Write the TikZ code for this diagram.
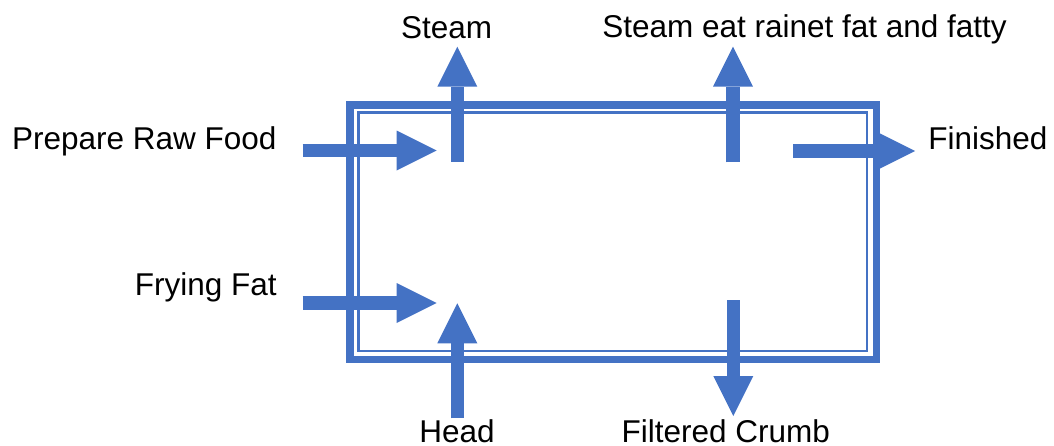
\documentclass[tikz,border=0pt]{standalone}
\usepackage{fontspec}
\setmainfont{Liberation Sans}
\usetikzlibrary{arrows.meta}
\definecolor{flowblue}{HTML}{4472C4}
\begin{document}
\begin{tikzpicture}[x=1pt,y=-1pt,
  label/.style={anchor=base,inner sep=0pt,text=black,font=\fontsize{31.5}{36}\selectfont},
  flow/.style={draw=flowblue,line width=13.5pt,
    -{Triangle[length=40pt,width=40pt,line width=0pt]}},
  vesselwall/.style={draw=flowblue,line width=7.5pt,miter limit=10,inner sep=0pt},
  vesselliner/.style={draw=flowblue,line width=2.5pt,inner sep=0pt}]
\useasboundingbox (0,0) rectangle (1054,445);

% fryer vessel: thick outer wall with a thin inner liner
\node[vesselwall,minimum width=526.5pt,minimum height=254.5pt] (vessel) at (613.25,232.25) {};
\node[vesselliner,minimum width=508.5pt,minimum height=238.5pt] (liner) at (612.75,231.75) {};

% labels
\node[label] (steam) at (446.7,38) {Steam};
\node[label] (steamfat) at (804.5,37.5) {Steam eat rainet fat and fatty};
\node[label] (raw) at (144.2,149.3) {Prepare Raw Food};
\node[label] (fat) at (205.8,295.7) {Frying Fat};
\node[label] (done) at (987.8,149) {Finished};
\node[label] (heat) at (457,442) {Head};
\node[label] (crumb) at (725.8,442) {Filtered Crumb};

% arrow end points
\coordinate (rawS) at (302.7,150.5);  \coordinate (rawE) at (436.7,150.5);
\coordinate (fatS) at (302.7,303);    \coordinate (fatE) at (436.7,303);
\coordinate (stmS) at (457.3,161.7);  \coordinate (stmE) at (457.3,46.7);
\coordinate (sfS) at (733,162.3);     \coordinate (sfE) at (733,46.7);
\coordinate (heatS) at (457.3,418.3); \coordinate (heatE) at (457.3,303.3);
\coordinate (crS) at (733.3,300);     \coordinate (crE) at (733.3,416);
\coordinate (doneS) at (793.3,151);   \coordinate (doneE) at (915,151);

% flows in and out of the vessel
\draw[flow] (rawS) -- (rawE);
\draw[flow] (fatS) -- (fatE);
\draw[flow] (stmS) -- (stmE);
\draw[flow] (sfS) -- (sfE);
\draw[flow] (heatS) -- (heatE);
\draw[flow] (crS) -- (crE);
\draw[flow] (doneS) -- (doneE);
\end{tikzpicture}
\end{document}
